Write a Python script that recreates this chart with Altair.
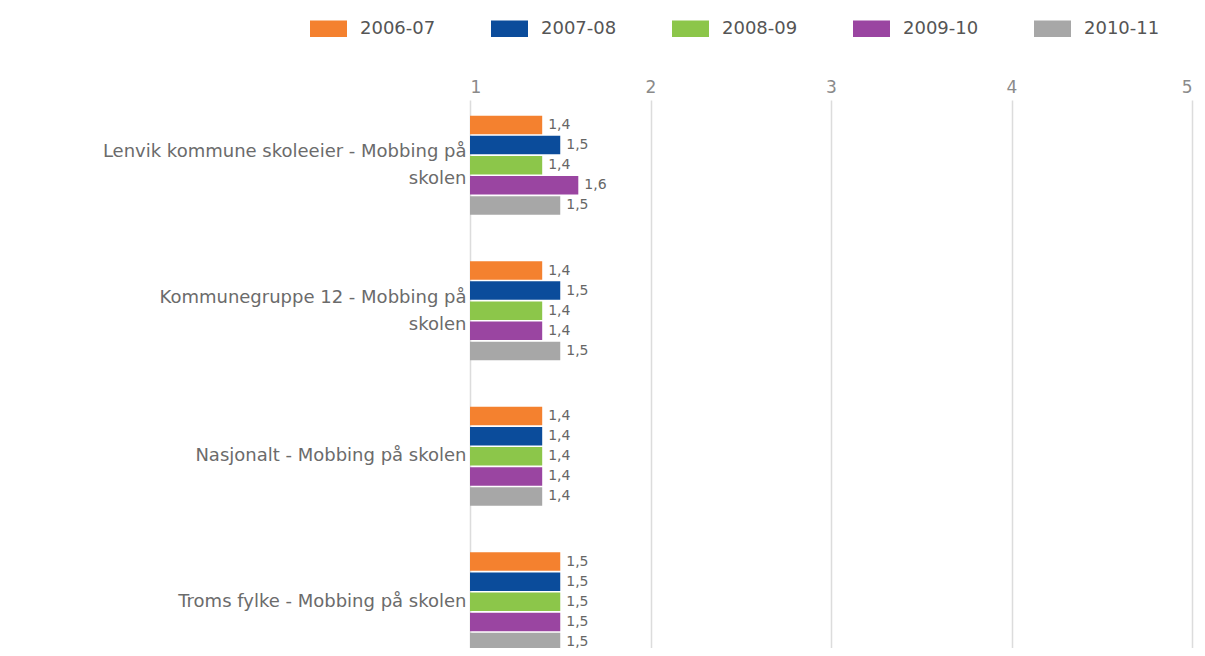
import altair as alt
import pandas as pd

categories = [
    "Lenvik kommune skoleeier - Mobbing på\nskolen",
    "Kommunegruppe 12 - Mobbing på\nskolen",
    "Nasjonalt - Mobbing på skolen",
    "Troms fylke - Mobbing på skolen",
]
years = ["2006-07", "2007-08", "2008-09", "2009-10", "2010-11"]
colors = ["#F4812F", "#0B4C9B", "#8CC64A", "#9A45A1", "#A7A7A7"]

values = {
    "2006-07": [1.4, 1.4, 1.4, 1.5],
    "2007-08": [1.5, 1.5, 1.4, 1.5],
    "2008-09": [1.4, 1.4, 1.4, 1.5],
    "2009-10": [1.6, 1.4, 1.4, 1.5],
    "2010-11": [1.5, 1.5, 1.4, 1.5],
}
axis_ticks = [1, 2, 3, 4, 5]

rows = []
for y in years:
    for c, v in zip(categories, values[y]):
        rows.append({"cat": c, "year": y, "value": v, "base": 1,
                     "label": f"{v:.1f}".replace(".", ",")})
df = pd.DataFrame(rows)

FONT = "Verdana, DejaVu Sans, sans-serif"

base = alt.Chart(df).encode(
    y=alt.Y("cat:N", sort=categories, title=None,
            scale=alt.Scale(paddingInner=0.32, paddingOuter=0.108, range=[0, 567]),
            axis=alt.Axis(labelExpr="split(datum.label, '\\n')",
                          labelFontSize=18, labelColor="#6b6b6b", labelFont=FONT,
                          labelLineHeight=27,
                          labelOffset={"expr": "indexof(datum.label, '\\n') >= 0 ? -13 : 0"},
                          labelPadding=4, ticks=False,
                          domain=False, grid=False, labelLimit=600)),
    yOffset=alt.YOffset("year:N", sort=years, scale=alt.Scale(paddingInner=0.08)),
)

bars = base.mark_bar().encode(
    x=alt.X("value:Q", title=None,
            scale=alt.Scale(domain=[1, 5], zero=False, nice=False),
            axis=alt.Axis(orient="top", values=axis_ticks, grid=True,
                          gridColor="#dcdcdc", gridWidth=1.5, domain=False, ticks=False,
                          labelFontSize=17, labelColor="#8a8a8a", labelFont=FONT,
                          labelPadding=4, format="d")),
    x2="base:Q",
    color=alt.Color("year:N", sort=years,
                    scale=alt.Scale(domain=years, range=colors),
                    legend=alt.Legend(title=None, orient="none", direction="horizontal",
                                      legendX=-160, legendY=-90, padding=0,
                                      symbolType="M-1,-0.45H1V0.45H-1Z",
                                      symbolSize=1369, symbolStrokeWidth=0,
                                      labelFontSize=18, labelColor="#555555",
                                      labelFont=FONT, labelOffset=13,
                                      columnPadding=55)),
)

texts = base.mark_text(align="left", baseline="middle", dx=6, fontSize=14,
                       color="#666666", font=FONT).encode(
    x=alt.X("value:Q"),
    text="label:N",
)

chart = alt.layer(bars, texts).properties(
    width=722, height=548,
    autosize=alt.AutoSizeParams(type="none"),
    padding={"left": 462, "top": 92, "right": 5, "bottom": 0},
    background="white",
).configure_view(stroke=None)

chart.save("out.html", embed_options={"renderer": "svg", "actions": False})
